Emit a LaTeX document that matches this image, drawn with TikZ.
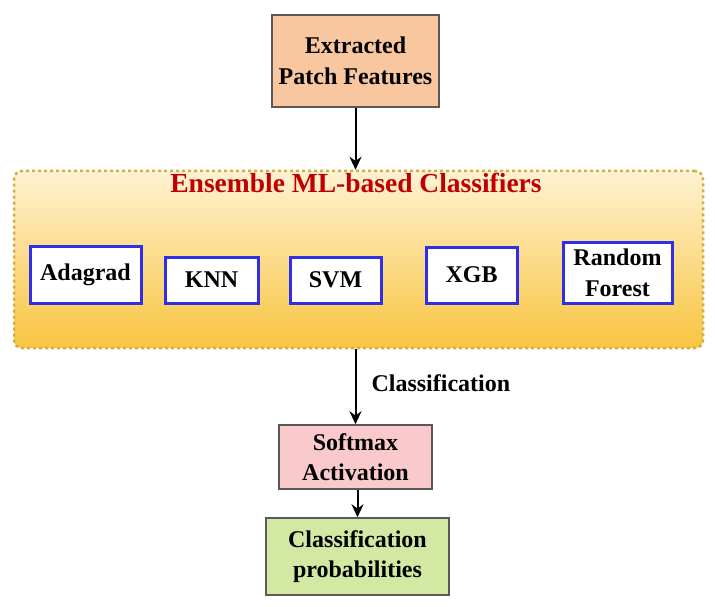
\documentclass[tikz,border=0pt]{standalone}
\usepackage{fontspec}
\setmainfont{Liberation Serif}
\usetikzlibrary{arrows.meta}
\definecolor{peach}{HTML}{F9C79F}
\definecolor{pinkbox}{HTML}{F9C9CB}
\definecolor{greenbox}{HTML}{D3E8A3}
\definecolor{grayline}{HTML}{595959}
\definecolor{goldline}{HTML}{D2AE45}
\definecolor{ensTop}{HTML}{FFF2D2}
\definecolor{ensMid}{HTML}{FDE29C}
\definecolor{ensBot}{HTML}{F8C541}
\definecolor{titlered}{HTML}{C00000}
\definecolor{bluebox}{HTML}{2F2FE6}
\tikzset{
  flowbox/.style={draw=grayline, line width=1.5pt, align=center, inner sep=0pt,
    font=\fontsize{24}{30.5}\selectfont\bfseries},
  clfbox/.style={draw=bluebox, fill=white, line width=3pt, align=center, inner sep=0pt,
    font=\fontsize{24}{31}\selectfont\bfseries},
  conn/.style={draw=black, line width=2pt, -{Stealth[length=13pt,width=12pt]}},
}
\begin{document}
\begin{tikzpicture}[x=1pt,y=-1pt]
\useasboundingbox (0,0) rectangle (715,607);
% top box
\node[flowbox, fill=peach, minimum width=167pt, minimum height=92pt] (top) at (355.5,61) {Extracted\\Patch Features};
% ensemble container
\node[draw=goldline, line width=2.5pt, dash pattern=on 3pt off 3pt, rounded corners=8pt,
  top color=ensTop, middle color=ensMid, bottom color=ensBot,
  minimum width=689pt, minimum height=177pt, inner sep=0pt] (ens) at (358.5,259.5) {};
\node[anchor=base, text=titlered, font=\fontsize{27.5}{33}\selectfont\bfseries] (title) at (356,193) {Ensemble ML-based Classifiers};
% classifiers
\node[clfbox, minimum width=111pt, minimum height=57pt] (ada) at (85.5,274.5) {Adagrad};
\node[clfbox, minimum width=93pt, minimum height=46pt] (knn) at (211.5,280) {KNN};
\node[clfbox, minimum width=91pt, minimum height=46pt] (svm) at (335.5,280) {SVM};
\node[clfbox, minimum width=91pt, minimum height=56pt] (xgb) at (471.5,275) {XGB};
\node[clfbox, minimum width=109pt, minimum height=61pt] (rf) at (617.5,272.5) {Random\\Forest};
% lower boxes
\node[flowbox, fill=pinkbox, minimum width=153pt, minimum height=64pt] (soft) at (355.5,457) {Softmax\\Activation};
\node[flowbox, fill=greenbox, minimum width=183pt, minimum height=77pt] (prob) at (357.5,556.5) {Classification\\probabilities};
% connectors
\draw[conn] (top.south) -- (top.south |- ens.north);
\draw[conn] (ens.south -| soft.north) -- (soft.north);
\draw[conn] (soft.south) ++(2pt,0) coordinate (s1) -- (s1 |- prob.north);
\node[anchor=west, font=\fontsize{24}{30}\selectfont\bfseries] (clab) at (368,383) {Classification};
\end{tikzpicture}
\end{document}
